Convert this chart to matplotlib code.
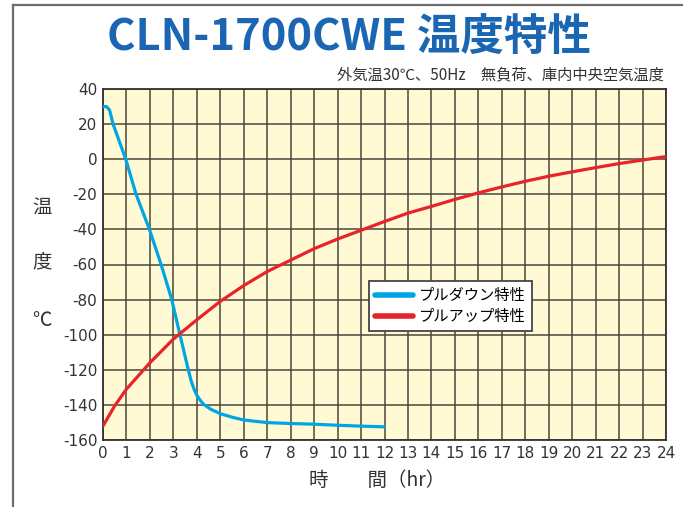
import matplotlib
matplotlib.use('Agg')
import matplotlib.pyplot as plt
from matplotlib.lines import Line2D

# Pull-down (cooling) curve
down_hours = [0, 0.15, 0.28, 0.43, 0.97, 1.41, 1.98, 2.5, 2.93, 3.28, 3.6,
              3.75, 3.88, 4.0, 4.15, 4.3, 4.6, 5, 5.5, 6, 7, 8, 9, 10, 11, 12]
down_temps = [30, 30, 28, 20, 0, -20, -40, -61, -80, -100, -118,
              -126, -131, -134.5, -137.5, -139.8, -142.5, -145, -147, -148.6,
              -150.1, -150.6, -151, -151.6, -152.1, -152.5]

# Pull-up (warming) curve
up_hours = [0, 0.5, 1, 2, 3, 4, 5, 6, 7, 8, 9, 10, 11, 12,
            13, 14, 15, 16, 17, 18, 19, 20, 21, 22, 23, 24]
up_temps = [-152, -140.5, -131, -116, -102.5, -91.5, -81, -72, -64, -57.5, -51, -45.5, -40.5, -35.5,
            -30.7, -26.9, -22.9, -19.2, -15.8, -12.6, -9.7, -7.2, -4.8, -2.5, -0.5, 1.5]

x_ticks = list(range(0, 25))
y_ticks = list(range(-160, 41, 20))

title = 'CLN-1700CWE 温度特性'
subtitle = '外気温30℃、50Hz　無負荷、庫内中央空気温度'
legend_labels = ['プルダウン特性', 'プルアップ特性']

jp = ['Noto Sans CJK JP', 'DejaVu Sans']
plt.rcParams['font.family'] = jp

fig = plt.figure(figsize=(6.83, 5.07), dpi=100)
ax = fig.add_axes([103 / 683, 1 - 440 / 507, 563 / 683, 351 / 507])
ax.set_facecolor('#fff9d4')

ax.plot(down_hours, down_temps, color='#00a6e4', lw=2.3, solid_capstyle='round',
        solid_joinstyle='round', label=legend_labels[0], zorder=3)
ax.plot(up_hours, up_temps, color='#e8232a', lw=2.3, solid_capstyle='round',
        solid_joinstyle='round', label=legend_labels[1], zorder=3)

ax.set_xlim(0, 24)
ax.set_ylim(-160, 40)
ax.set_xticks(x_ticks)
ax.set_yticks(y_ticks)
ax.set_xticklabels([str(v) for v in x_ticks], fontfamily='DejaVu Sans', fontsize=11)
ax.set_yticklabels([str(v) for v in y_ticks], fontfamily='DejaVu Sans', fontsize=11)
ax.tick_params(length=0, pad=4, colors='#333333')
ax.grid(True, color='#4a463c', lw=1.1)
ax.set_axisbelow(True)
for s in ax.spines.values():
    s.set_color('#333333')
    s.set_linewidth(1.3)

leg = ax.legend(loc='upper left', bbox_to_anchor=(0.4725, 0.453), borderaxespad=0,
                fontsize=11, handlelength=2.5, handletextpad=0.4, fancybox=False,
                framealpha=1, edgecolor='#444444', borderpad=0.4, labelspacing=0.25)
leg.get_frame().set_linewidth(1.3)
for line in leg.get_lines():
    line.set_linewidth(4)

# Titles
fig.text(349 / 683, 1 - 38 / 507, title, ha='center', va='center', fontsize=31.3,
         fontweight='bold', color='#1a66b3')
fig.text(664 / 683, 1 - 75 / 507, subtitle, ha='right', va='center', fontsize=11,
         color='#333333')

# Vertical y label
for ch, yy in zip(['温', '度', '℃'], [208, 262, 320]):
    fig.text(42 / 683, 1 - yy / 507, ch, ha='center', va='center', fontsize=14,
             color='#333333')
fig.text(377 / 683, 1 - 480 / 507, '時　　間（hr）', ha='center', va='center',
         fontsize=14, color='#333333')

# Outer frame (left and top)
fig.add_artist(Line2D([13 / 683, 13 / 683], [0, 1 - 5 / 507], color='#6d6d6d', lw=1.6,
                      transform=fig.transFigure))
fig.add_artist(Line2D([13 / 683, 1], [1 - 5 / 507, 1 - 5 / 507], color='#6d6d6d', lw=1.6,
                      transform=fig.transFigure))

fig.savefig('out.png', dpi=100)
